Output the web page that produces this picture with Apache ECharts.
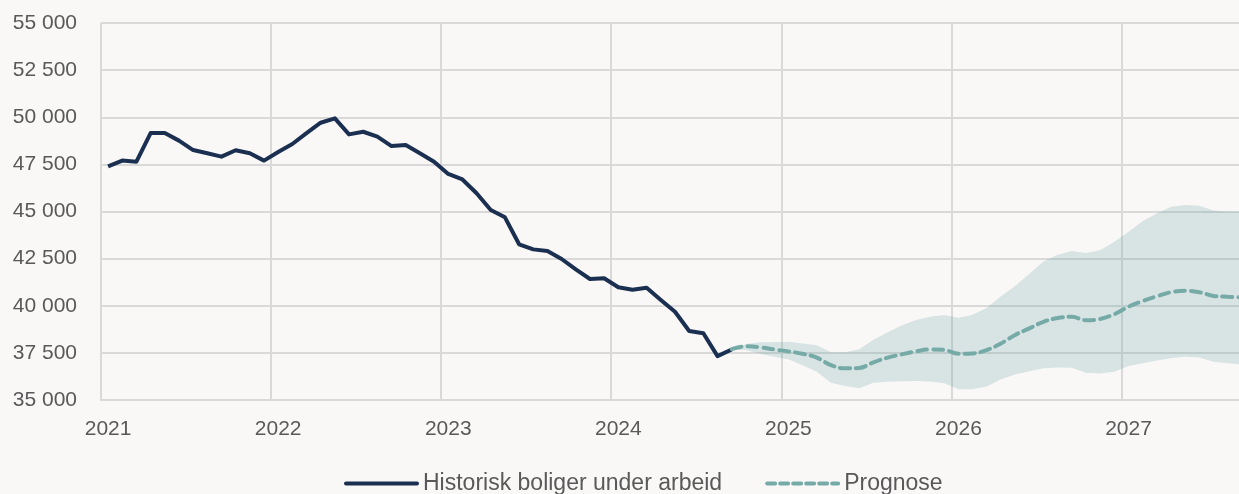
<!DOCTYPE html>
<html>
<head>
<meta charset="utf-8">
<script src="https://cdn.jsdelivr.net/npm/echarts@6/dist/echarts.min.js"></script>
<style>
html,body{margin:0;padding:0;background:#f9f8f7;overflow:hidden;}
#chart{width:1252px;height:494px;}
</style>
</head>
<body>
<div id="chart"></div>
<script>
// Monthly categories, Jan 2021 .. Sep 2027
const months = [
 '2021-01','2021-02','2021-03','2021-04','2021-05','2021-06','2021-07','2021-08','2021-09','2021-10','2021-11','2021-12',
 '2022-01','2022-02','2022-03','2022-04','2022-05','2022-06','2022-07','2022-08','2022-09','2022-10','2022-11','2022-12',
 '2023-01','2023-02','2023-03','2023-04','2023-05','2023-06','2023-07','2023-08','2023-09','2023-10','2023-11','2023-12',
 '2024-01','2024-02','2024-03','2024-04','2024-05','2024-06','2024-07','2024-08','2024-09','2024-10','2024-11','2024-12',
 '2025-01','2025-02','2025-03','2025-04','2025-05','2025-06','2025-07','2025-08','2025-09','2025-10','2025-11','2025-12',
 '2026-01','2026-02','2026-03','2026-04','2026-05','2026-06','2026-07','2026-08','2026-09','2026-10','2026-11','2026-12',
 '2027-01','2027-02','2027-03','2027-04','2027-05','2027-06','2027-07','2027-08','2027-09'
];

// Historical dwellings under construction, Jan 2021 .. Sep 2024
const historisk = [
 47390,47700,47640,49160,49160,48760,48260,48090,47910,48250,48090,47700,
 48160,48580,49160,49710,49940,49090,49230,48970,48470,48530,48090,47640,
 46990,46700,45970,45080,44690,43260,42990,42900,42480,41930,41420,41460,
 40980,40850,40960,40310,39680,38660,38540,37330,37680
];

// Forecast, Sep 2024 .. Sep 2027
const prognose = [
 37700,37850,37800,37680,37580,37450,37250,36850,36680,36700,37000,37250,
 37420,37580,37680,37660,37450,37470,37650,38000,38450,38800,39150,39350,
 39420,39230,39300,39550,39950,40250,40500,40720,40800,40720,40520,40480,40450
];

// Forecast interval, lower and upper bounds, Sep 2024 .. Sep 2027
const nedre = [
 37680,37650,37450,37300,37160,36850,36500,35920,35740,35620,35920,35970,
 36000,36010,35980,35890,35570,35570,35710,36100,36350,36520,36680,36720,
 36710,36450,36410,36500,36800,36950,37100,37220,37300,37250,37030,36950,36880
];
const ovre = [
 37720,37970,38060,38080,38090,38000,37900,37530,37530,37690,38200,38600,
 38950,39250,39420,39510,39370,39520,39900,40500,41050,41700,42350,42700,
 42900,42800,42950,43400,43930,44500,44900,45250,45340,45300,45050,45000,44990
];

const yTicks = [35000, 37500, 40000, 42500, 45000, 47500, 50000, 52500, 55000];

const startIdx = historisk.length - 1; // forecast starts at last historical month
const pad = n => new Array(n).fill(null);
const histData = historisk.concat(pad(months.length - historisk.length));
const progData = pad(startIdx).concat(prognose);
const lowData = pad(startIdx).concat(nedre);
const diffData = pad(startIdx).concat(ovre.map((v, i) => v - nedre[i]));

const fmt = v => {
  const s = String(v);
  return s.length > 3 ? s.slice(0, s.length - 3) + ' ' + s.slice(-3) : s;
};

const chart = echarts.init(document.getElementById('chart'), null, {renderer: 'canvas'});
chart.setOption({
  backgroundColor: '#f9f8f7',
  animation: false,
  textStyle: {fontFamily: 'Liberation Sans, Arial, sans-serif'},
  grid: {left: 101, top: 23, width: 1148, height: 377, containLabel: false},
  legend: {
    data: [
      {name: 'Historisk boliger under arbeid', lineStyle: {width: 4, color: '#1b2f50', cap: 'round'}},
      {name: 'Prognose', lineStyle: {width: 4, color: '#75aaa7', type: [8, 5], cap: 'round'}}
    ],
    left: 339,
    top: 467,
    itemWidth: 71,
    itemHeight: 22,
    itemGap: 43,
    itemStyle: {opacity: 0},
    textStyle: {color: '#595959', fontSize: 23, padding: [0, 0, 0, 1], fontFamily: 'Liberation Sans, Arial, sans-serif'}
  },
  xAxis: {
    type: 'category',
    data: months,
    boundaryGap: true,
    axisLine: {show: true, lineStyle: {color: '#d9d9d9', width: 2}},
    axisTick: {show: false},
    axisLabel: {
      interval: 11,
      margin: 19,
      color: '#595959',
      fontSize: 21,
      formatter: v => v.slice(0, 4)
    },
    splitLine: {show: true, interval: 11, lineStyle: {color: '#d9d9d9', width: 2}}
  },
  yAxis: {
    type: 'value',
    min: yTicks[0],
    max: yTicks[yTicks.length - 1],
    interval: 2500,
    axisLine: {show: false},
    axisTick: {show: false},
    axisLabel: {margin: 24, color: '#595959', fontSize: 21, formatter: fmt},
    splitLine: {show: true, lineStyle: {color: '#d9d9d9', width: 2}}
  },
  series: [
    {
      name: 'band-lower',
      type: 'line',
      data: lowData,
      stack: 'band',
      symbol: 'none',
      lineStyle: {opacity: 0},
      silent: true,
      z: 1
    },
    {
      name: 'band-upper',
      type: 'line',
      data: diffData,
      stack: 'band',
      symbol: 'none',
      lineStyle: {opacity: 0},
      areaStyle: {color: 'rgba(110,165,165,0.33)'},
      silent: true,
      z: 1
    },
    {
      name: 'Historisk boliger under arbeid',
      type: 'line',
      data: histData,
      symbol: 'none',
      lineStyle: {color: '#1b2f50', width: 4, join: 'round'},
      itemStyle: {color: '#1b2f50'},
      z: 3
    },
    {
      name: 'Prognose',
      type: 'line',
      data: progData,
      symbol: 'none',
      smooth: 0.4,
      lineStyle: {color: '#75aaa7', width: 4, type: [10, 6], cap: 'round'},
      itemStyle: {color: '#75aaa7'},
      z: 4
    }
  ]
});
</script>
</body>
</html>
